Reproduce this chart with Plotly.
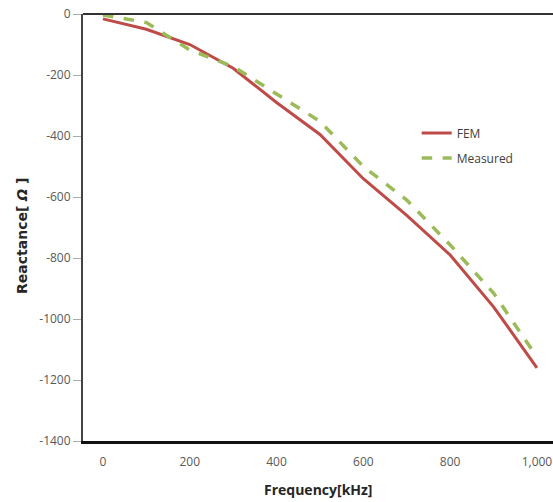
import plotly.graph_objects as go

freq = [0, 100, 200, 300, 400, 500, 600, 700, 800, 900, 1000]
fem = [-16, -50, -100, -178, -290, -395, -540, -660, -790, -960, -1160]
measured = [-3, -28, -118, -172, -262, -352, -500, -610, -757, -915, -1125]

x_ticks = [0, 200, 400, 600, 800, 1000]
x_ticktext = ["0", "200", "400", "600", "800", "1,000"]
y_ticks = [0, -200, -400, -600, -800, -1000, -1200, -1400]
y_ticktext = ["0", "-200", "-400", "-600", "-800", "-1000", "-1200", "-1400"]

fig = go.Figure()
fig.add_trace(go.Scatter(x=freq, y=fem, mode="lines", name="FEM", legendgroup="a",
                         line=dict(color="#BE4B48", width=3)))
fig.add_trace(go.Scatter(x=freq, y=measured, mode="lines", name="Measured", legendgroup="b",
                         line=dict(color="#9BBB59", width=3.5, dash="dash")))

font = "Open Sans, Liberation Sans, sans-serif"
title_font = dict(family=font, size=14, color="#262626")
ytitle_font = dict(family="DejaVu Sans, sans-serif", size=14, color="#262626")
fig.update_layout(
    width=553, height=502,
    margin=dict(l=83, r=0, t=14, b=61, autoexpand=False),
    paper_bgcolor="white", plot_bgcolor="white",
    showlegend=True,
    legend=dict(x=0.71, y=0.755, xanchor="left", yanchor="top",
                bgcolor="rgba(0,0,0,0)", font=dict(family=font, size=12, color="#404040"),
                itemwidth=30, tracegroupgap=6),
    xaxis=dict(range=[-46, 1037], tickvals=x_ticks, ticktext=x_ticktext, automargin=False,
               showgrid=False, zeroline=False, showline=True, linecolor="#111111",
               linewidth=3, ticks="", ticklabelstandoff=8,
               tickfont=dict(family=font, size=12, color="#595959")),
    yaxis=dict(range=[-1400, 0], tickvals=y_ticks, ticktext=y_ticktext, automargin=False,
               showgrid=False, zeroline=False, showline=True, linecolor="#444444",
               linewidth=2, ticks="outside", ticklen=8, tickcolor="#AAAAAA",
               tickfont=dict(family=font, size=12, color="#595959")),
    annotations=[
        dict(text="<b>Frequency[kHz]</b>", xref="paper", yref="paper", x=0.5, y=-0.113,
             xanchor="center", yanchor="middle", showarrow=False, font=title_font),
        dict(text="<b>Reactance[ <i>Ω</i> ]</b>", xref="paper", yref="paper", x=-0.13, y=0.48,
             xanchor="center", yanchor="middle", showarrow=False, textangle=-90, font=ytitle_font),
    ],
    shapes=[dict(type="line", xref="paper", yref="paper", x0=0, x1=1, y0=1, y1=1,
                 line=dict(color="#333333", width=2))],
)
fig.write_html("out.html", config={"displayModeBar": False},
               post_script="document.body.style.margin='0';document.body.style.overflow='hidden';")
